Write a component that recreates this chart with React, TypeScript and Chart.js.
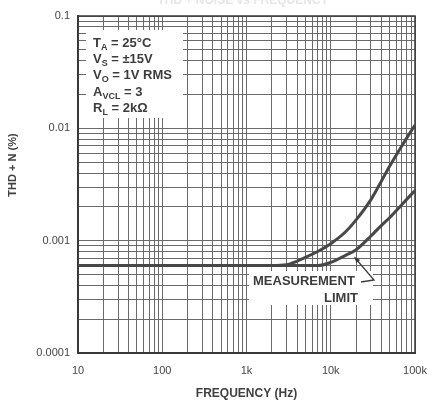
import React, { useEffect, useRef } from 'react';
import { Chart, registerables } from 'chart.js';

Chart.register(...registerables);

// ---- data ----
const frequencies = [10, 100, 1000, 2000, 3000, 5000, 7000, 10000, 15000, 20000, 30000, 40000, 50000, 70000, 100000];
const thdUpper = [0.0006, 0.0006, 0.0006, 0.0006, 0.00061, 0.00071, 0.0008, 0.00094, 0.0012, 0.00153, 0.00232, 0.0034, 0.0046, 0.007, 0.0107];
const thdLower = [0.0006, 0.0006, 0.0006, 0.0006, 0.0006, 0.0006, 0.0006, 0.00064, 0.00074, 0.00083, 0.0011, 0.00137, 0.0016, 0.0021, 0.0028];

const xDecades = [10, 100, 1000, 10000, 100000];
const xTickLabels = ['10', '100', '1k', '10k', '100k'];
const yDecades = [0.0001, 0.001, 0.01, 0.1];
const yTickLabels = ['0.0001', '0.001', '0.01', '0.1'];
const minorSteps = [1, 2, 3, 4, 5, 6, 7, 8, 9];

const conditionLines = [
  [['T'], ['A', 'sub'], [' = 25°C']],
  [['V'], ['S', 'sub'], [' = ±15V']],
  [['V'], ['O', 'sub'], [' = 1V RMS']],
  [['A'], ['VCL', 'sub'], [' = 3']],
  [['R'], ['L', 'sub'], [' = 2kΩ']],
];

const FONT = '"Liberation Sans", Arial, Helvetica, sans-serif';

function gridValues(decades: number[]) {
  const out: number[] = [];
  for (let i = 0; i < decades.length - 1; i++) {
    for (const m of minorSteps) out.push(+(decades[i] * m).toPrecision(6));
  }
  out.push(decades[decades.length - 1]);
  return out;
}

function labelFor(v: number, decades: number[], labels: string[]) {
  const i = decades.findIndex((d) => Math.abs(Math.log10(d) - Math.log10(v)) < 1e-6);
  return i >= 0 ? labels[i] : '';
}

const xGrid = gridValues(xDecades);
const yGrid = gridValues(yDecades);

const annotate = {
  id: 'annotate',
  beforeDatasetsDraw(chart: any) {
    const { ctx, chartArea: a } = chart;
    ctx.save();
    // white label backgrounds that hide the grid
    ctx.fillStyle = '#ffffff';
    ctx.fillRect(a.left + 8, 30, 97, 88);
    ctx.fillRect(249, 271, 124, 34);
    // frame
    ctx.strokeStyle = '#3a3a3a';
    ctx.lineWidth = 1.5;
    ctx.strokeRect(a.left, a.top, a.right - a.left, a.bottom - a.top);

    // conditions text
    ctx.fillStyle = '#3c3c3c';
    ctx.textBaseline = 'alphabetic';
    ctx.textAlign = 'left';
    conditionLines.forEach((parts, li) => {
      let x = 93;
      const y = 47 + li * 16.2;
      parts.forEach((p) => {
        const sub = p[1] === 'sub';
        ctx.font = sub ? `bold 9px ${FONT}` : `bold 13px ${FONT}`;
        ctx.fillText(p[0], x, sub ? y + 3 : y);
        x += ctx.measureText(p[0]).width;
      });
    });

    // measurement limit text
    ctx.font = `bold 13px ${FONT}`;
    ctx.textAlign = 'left';
    ctx.fillText('MEASUREMENT', 253, 285);
    ctx.textAlign = 'right';
    ctx.fillText('LIMIT', 358, 302);
    ctx.restore();
  },
  afterDatasetsDraw(chart: any) {
    const { ctx } = chart;
    ctx.save();
    ctx.strokeStyle = '#3c3c3c';
    ctx.fillStyle = '#3c3c3c';
    ctx.lineWidth = 1.3;
    ctx.beginPath();
    ctx.moveTo(361, 282);
    ctx.lineTo(374, 280);
    ctx.lineTo(356, 259);
    ctx.stroke();
    // arrow head
    const ang = Math.atan2(259 - 280, 356 - 374);
    const hx = 354, hy = 256.5;
    ctx.beginPath();
    ctx.moveTo(hx, hy);
    ctx.lineTo(hx - 7 * Math.cos(ang - 0.35), hy - 7 * Math.sin(ang - 0.35));
    ctx.lineTo(hx - 7 * Math.cos(ang + 0.35), hy - 7 * Math.sin(ang + 0.35));
    ctx.closePath();
    ctx.fill();
    ctx.restore();
  },
  afterDraw(chart: any) {
    const { ctx, chartArea: a } = chart;
    ctx.save();
    // axis titles
    ctx.fillStyle = '#404040';
    ctx.font = `bold 12px ${FONT}`;
    ctx.textAlign = 'center';
    ctx.textBaseline = 'middle';
    ctx.fillText('FREQUENCY (Hz)', (a.left + a.right) / 2, 394);
    ctx.save();
    ctx.translate(13, 165);
    ctx.rotate(-Math.PI / 2);
    ctx.font = `bold 11px ${FONT}`;
    ctx.fillText('THD + N (%)', 0, 0);
    ctx.restore();
    // faint cut-off title at the very top
    ctx.fillStyle = '#e6e6e6';
    ctx.font = `bold 12px ${FONT}`;
    ctx.textBaseline = 'alphabetic';
    ctx.fillText('THD + NOISE vs FREQUENCY', 243, 4);
    ctx.restore();
  },
};

export default function App() {
  const ref = useRef<HTMLCanvasElement>(null);
  useEffect(() => {
    const tickFont = { family: FONT, size: 11 };
    const chart = new Chart(ref.current as HTMLCanvasElement, {
      type: 'line',
      data: {
        datasets: [
          {
            data: frequencies.map((f, i) => ({ x: f, y: thdUpper[i] })),
            borderColor: '#474747',
            borderWidth: 3,
            pointRadius: 0,
            fill: false,
            cubicInterpolationMode: 'monotone',
          },
          {
            data: frequencies.map((f, i) => ({ x: f, y: thdLower[i] })),
            borderColor: '#474747',
            borderWidth: 3,
            pointRadius: 0,
            fill: false,
            cubicInterpolationMode: 'monotone',
          },
        ],
      },
      options: {
        responsive: false,
        animation: false,
        devicePixelRatio: 1,
        layout: { padding: { left: 8, top: 16, right: 15, bottom: 0 } },
        plugins: { legend: { display: false }, tooltip: { enabled: false } },
        scales: {
          x: {
            type: 'logarithmic',
            min: 10,
            max: 100000,
            afterBuildTicks: (s: any) => {
              s.ticks = xGrid.map((v) => ({ value: v }));
            },
            afterFit: (s: any) => {
              s.height = 49;
              s.paddingLeft = 0;
              s.paddingRight = 0;
            },
            grid: { color: '#6a6a6a', lineWidth: 1, drawTicks: false },
            border: { display: true, color: '#3a3a3a', width: 2 },
            ticks: {
              autoSkip: false,
              maxRotation: 0,
              minRotation: 0,
              padding: 11,
              color: '#454545',
              font: tickFont,
              callback: (v: any) => labelFor(Number(v), xDecades, xTickLabels),
            },
          },
          y: {
            type: 'logarithmic',
            min: 0.0001,
            max: 0.1,
            afterBuildTicks: (s: any) => {
              s.ticks = yGrid.map((v) => ({ value: v }));
            },
            afterFit: (s: any) => {
              s.width = 70;
              s.paddingTop = 0;
              s.paddingBottom = 0;
            },
            grid: { color: '#6a6a6a', lineWidth: 1, drawTicks: false },
            border: { display: true, color: '#3a3a3a', width: 2 },
            ticks: {
              autoSkip: false,
              padding: 8,
              color: '#454545',
              font: tickFont,
              callback: (v: any) => labelFor(Number(v), yDecades, yTickLabels),
            },
          },
        },
      } as any,
      plugins: [annotate],
    });
    return () => chart.destroy();
  }, []);
  return (
    <div style={{ position: 'absolute', left: 0, top: 0, width: 430, height: 402, background: '#ffffff' }}>
      <canvas ref={ref} width={430} height={402} style={{ display: 'block', width: 430, height: 402 }} />
    </div>
  );
}
